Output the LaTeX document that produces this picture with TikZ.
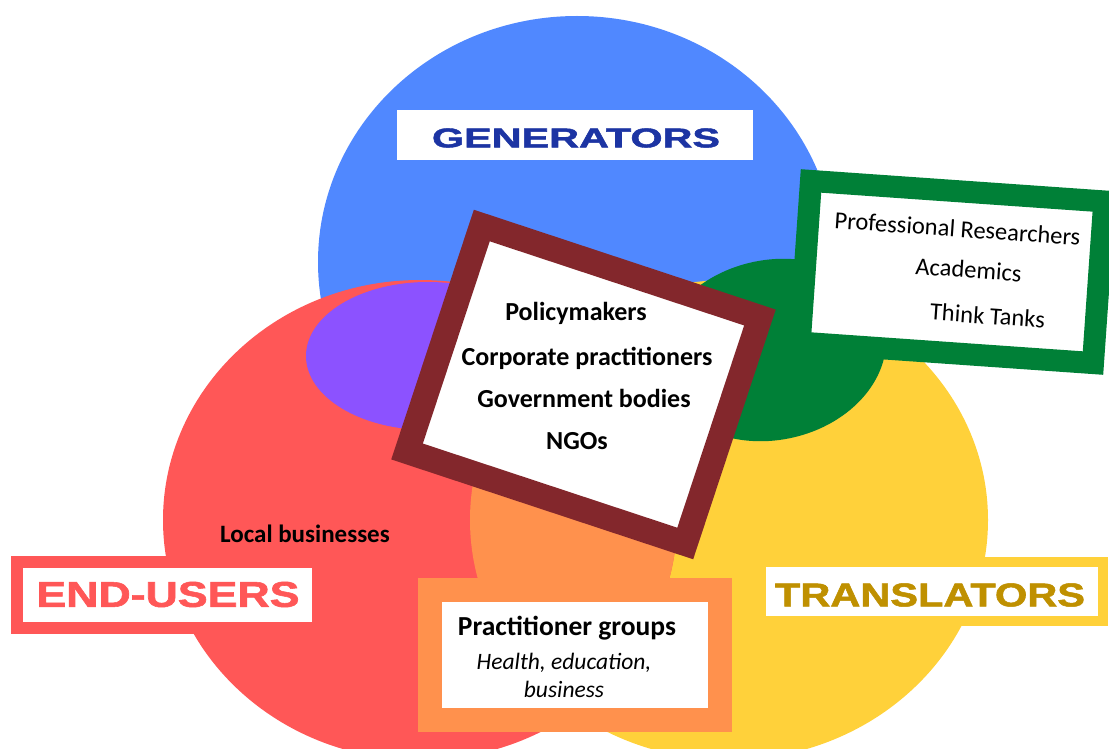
\documentclass[tikz,border=0pt]{standalone}
\usepackage{fontspec}
\setmainfont{Carlito}
\newfontfamily\headfont{Liberation Sans}[BoldFeatures={FakeBold=1.5}]
\definecolor{genblue}{HTML}{5088FF}
\definecolor{gentext}{HTML}{1C34A3}
\definecolor{endred}{HTML}{FF5757}
\definecolor{transyellow}{HTML}{FFD13A}
\definecolor{transtext}{HTML}{BF9000}
\definecolor{mixorange}{HTML}{FF914D}
\definecolor{mixpurple}{HTML}{8C52FF}
\definecolor{resgreen}{HTML}{008037}
\definecolor{policyred}{HTML}{83272C}
\begin{document}
\begin{tikzpicture}[x=1pt,y=-1pt,
    frame/.style={draw=#1,fill=white,line width=24pt},
    heading/.style={inner sep=0pt,text=#1},
    item/.style={anchor=base,inner sep=0pt,font=\bfseries\fontsize{26}{30}\selectfont}]
\useasboundingbox (0,0) rectangle (1109,749);
% the groups
\fill[genblue] (577,262) ellipse [x radius=259, y radius=246];
\fill[transyellow] (729,520) ellipse [x radius=259, y radius=240];
\fill[endred] (420,520) ellipse [x radius=257, y radius=240];
\begin{scope}
    \clip (420,520) ellipse [x radius=257, y radius=240];
    \fill[mixorange] (729,520) ellipse [x radius=259, y radius=240];
\end{scope}
\fill[mixpurple] (428,356) ellipse [x radius=122, y radius=74];
\fill[resgreen,rotate around={12:(772,350)}] (772,350) ellipse [x radius=115, y radius=90];
% boxes
\node[frame=genblue,line width=10pt,minimum width=366pt,minimum height=60pt] (generators) at (575,135) {};
\node[frame=endred,line width=12pt,minimum width=301pt,minimum height=66pt] (endusers) at (167.5,595) {};
\node[frame=transyellow,line width=10pt,minimum width=342pt,minimum height=59pt] (translators) at (932,591.5) {};
\node[frame=policyred,line width=25pt,minimum width=293pt,minimum height=238pt,rotate=-18.3] (policy) at (583.5,384.5) {};
\node[frame=resgreen,line width=22pt,minimum width=294pt,minimum height=162pt,rotate=-4] (research) at (952,272) {};
\node[frame=mixorange,minimum width=290pt,minimum height=130pt] (practice) at (575,655) {};
% headings
\node[heading=gentext] (gentitle) at (576,138) {\resizebox{288pt}{19pt}{\headfont\bfseries GENERATORS}};
\node[heading=endred] (endtitle) at (168,594.5) {\resizebox{263pt}{25pt}{\headfont\bfseries END-USERS}};
\node[heading=transtext] (transtitle) at (930,595) {\resizebox{310pt}{23pt}{\headfont\bfseries TRANSLATORS}};
% members
\node[item] (policymakers) at (576,320) {Policymakers};
\node[item] (corporate) at (587,365) {Corporate practitioners};
\node[item] (government) at (584,407) {Government bodies};
\node[item] (ngos) at (577,449) {NGOs};
\node[item,font=\bfseries\fontsize{25}{30}\selectfont] (local) at (305,542) {Local businesses};
\node[item,font=\fontsize{24.5}{30}\selectfont,rotate=-4] (researchers) at (957,237) {Professional Researchers};
\node[item,font=\fontsize{24.5}{30}\selectfont,rotate=-4] (academics) at (968,278) {Academics};
\node[item,font=\fontsize{24.5}{30}\selectfont,rotate=-4] (thinktanks) at (987,324) {Think Tanks};
\node[item,font=\bfseries\fontsize{27.5}{32}\selectfont] (groups) at (567,635) {Practitioner groups};
\node[item,font=\itshape\fontsize{23.5}{28}\selectfont] (fields) at (564,669) {Health, education,};
\node[item,font=\itshape\fontsize{23.5}{28}\selectfont] (business) at (564,697) {business};
\end{tikzpicture}
\end{document}
